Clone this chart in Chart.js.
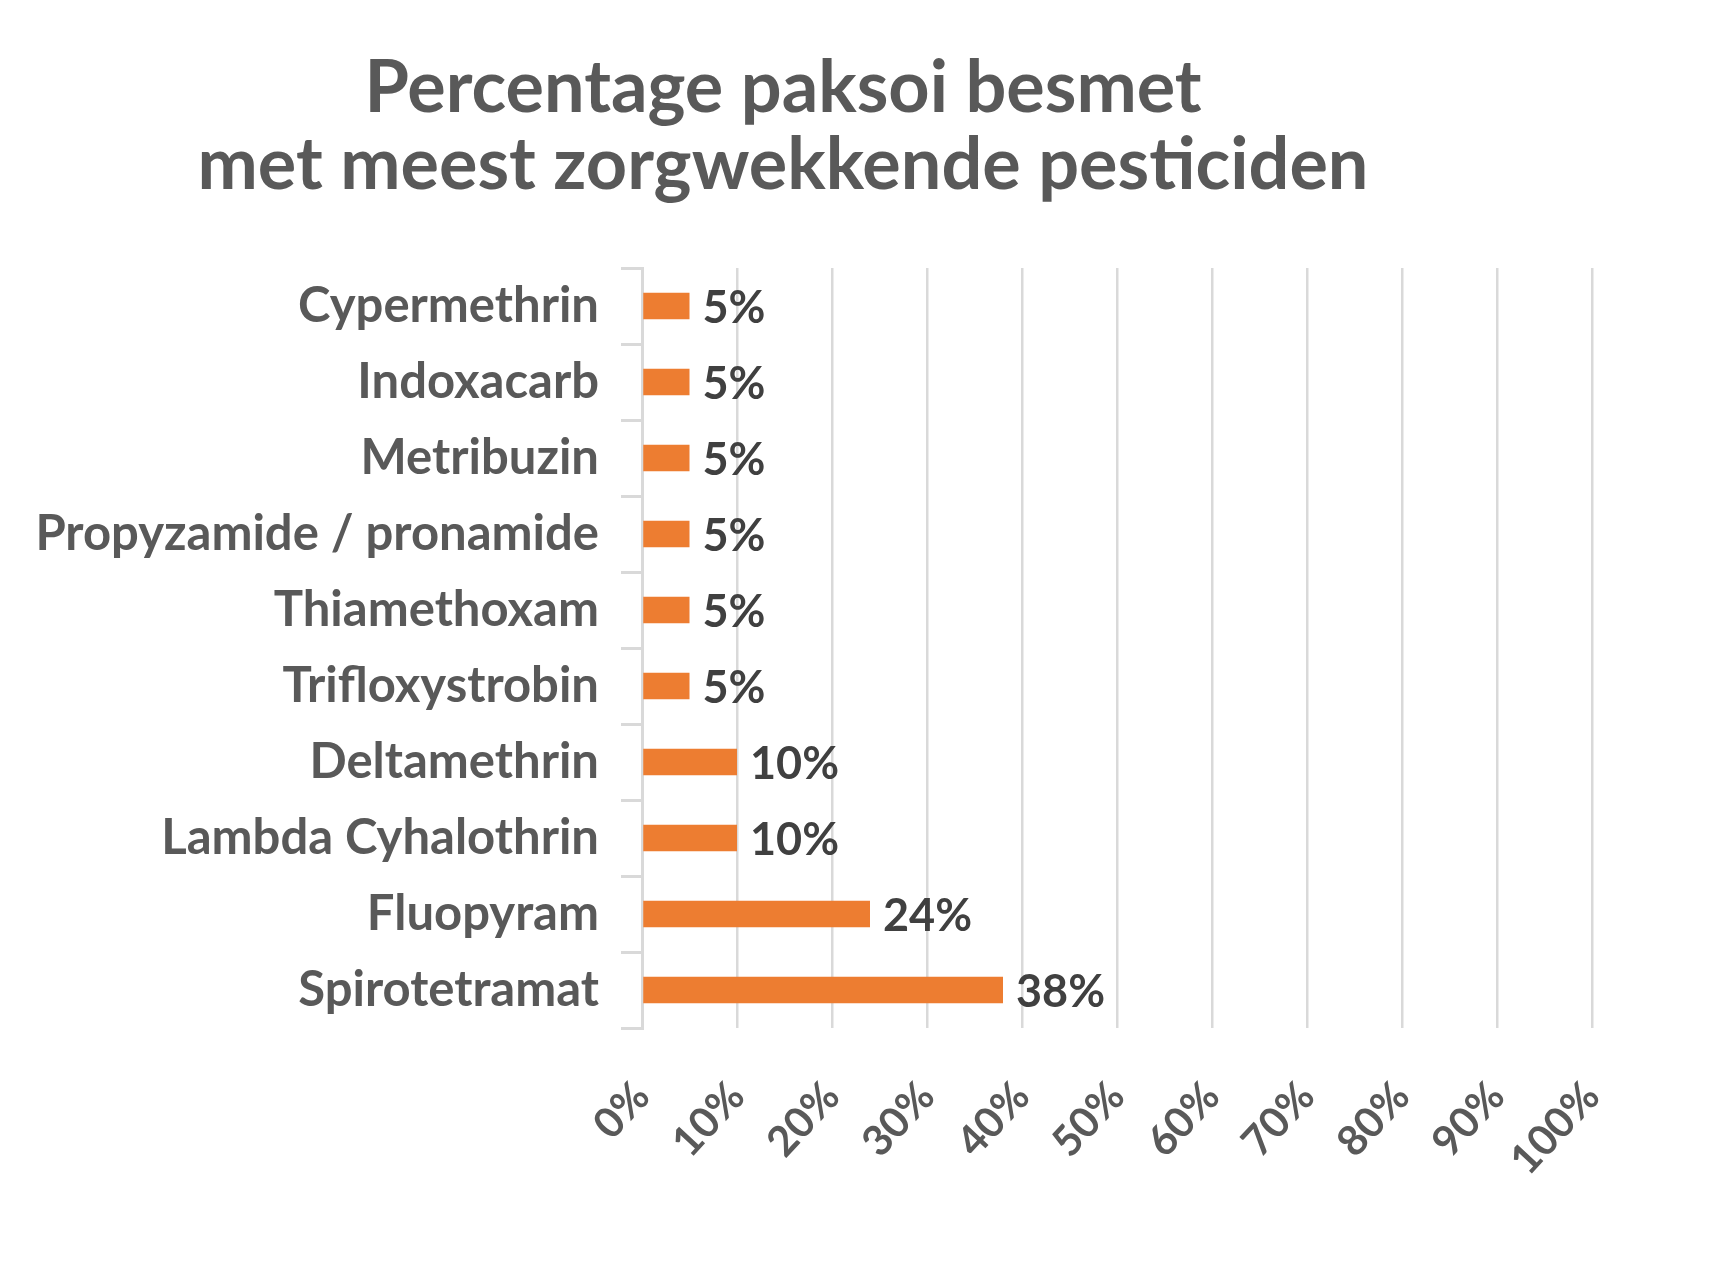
<!DOCTYPE html>
<html>
<head>
<meta charset="utf-8">
<script src="https://cdn.jsdelivr.net/npm/chart.js@4.4.1/dist/chart.umd.min.js"></script>
<style>
  html, body { margin: 0; padding: 0; background: #fff; }
  #wrap { width: 1718px; height: 1268px; }
</style>
</head>
<body>
<div id="wrap"><canvas id="bar-chart"></canvas></div>
<script>
let categories = ["Cypermethrin", "Indoxacarb", "Metribuzin", "Propyzamide / pronamide",
    "Thiamethoxam", "Trifloxystrobin", "Deltamethrin", "Lambda Cyhalothrin",
    "Fluopyram", "Spirotetramat"];
let percentages = [5, 5, 5, 5, 5, 5, 10, 10, 24, 38];
let xTicks = [0, 10, 20, 30, 40, 50, 60, 70, 80, 90, 100];
let titleLines = ["Percentage paksoi besmet", "met meest zorgwekkende pesticiden"];

let fontFam = "Lato, 'Open Sans', sans-serif";

// value labels at the end of each bar
let valueLabels = {
    id: "valueLabels",
    afterDatasetsDraw(chart) {
        let ctx = chart.ctx;
        let meta = chart.getDatasetMeta(0);
        ctx.save();
        ctx.font = "bold 45px " + fontFam;
        ctx.fillStyle = "#404040";
        ctx.textAlign = "left";
        ctx.textBaseline = "middle";
        meta.data.forEach(function (bar, i) {
            ctx.fillText(percentages[i] + "%", bar.x + 13, bar.y + 2);
        });
        ctx.restore();
    }
};

// two line title, centred a bit left of the canvas middle like the original
let chartTitle = {
    id: "chartTitle",
    afterDraw(chart) {
        let ctx = chart.ctx;
        ctx.save();
        ctx.font = "bold 72px " + fontFam;
        ctx.fillStyle = "#595959";
        ctx.textAlign = "center";
        ctx.textBaseline = "middle";
        titleLines.forEach(function (line, i) {
            ctx.fillText(line, 783, 89 + i * 77);
        });
        ctx.restore();
    }
};

let barChartEl = document.getElementById('bar-chart');

let config = {
    type: "bar",
    data: {
        labels: categories,
        datasets: [
            {
                data: percentages,
                backgroundColor: "#ED7D31",
                barPercentage: 0.35,
                categoryPercentage: 1.0
            }
        ]
    },
    options: {
        indexAxis: "y",
        responsive: true,
        maintainAspectRatio: false,
        animation: false,
        layout: {
            padding: { left: 20, right: 126, top: 268, bottom: 20 }
        },
        plugins: {
            legend: { display: false },
            tooltip: { enabled: false },
            title: { display: false }
        },
        scales: {
            x: {
                min: 0,
                max: 100,
                afterBuildTicks: function (scale) {
                    scale.ticks = xTicks.map(function (v) { return { value: v }; });
                },
                afterFit: function (scale) { scale.height = 220; },
                ticks: {
                    callback: function (v) { return v + "%"; },
                    color: "#595959",
                    font: { family: fontFam, size: 42, weight: "bold" },
                    minRotation: 47,
                    maxRotation: 47,
                    padding: 44
                },
                grid: {
                    color: "#D9D9D9",
                    lineWidth: 2.5,
                    drawTicks: false
                },
                border: { display: false }
            },
            y: {
                afterFit: function (scale) { scale.width = 622; },
                ticks: {
                    color: "#595959",
                    font: { family: fontFam, size: 49, weight: "bold" },
                    padding: 22
                },
                grid: {
                    offset: true,
                    drawOnChartArea: false,
                    drawTicks: true,
                    tickLength: 21,
                    color: "#D9D9D9",
                    lineWidth: 3
                },
                border: { display: true, color: "#D9D9D9", width: 3 }
            }
        }
    },
    plugins: [valueLabels, chartTitle]
};

let barChart = new Chart(barChartEl, config);
</script>
</body>
</html>
